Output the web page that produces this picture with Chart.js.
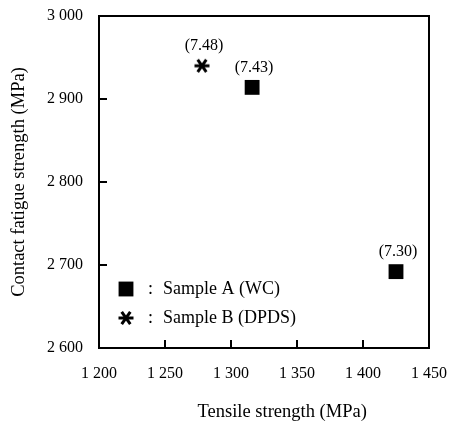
<!DOCTYPE html>
<html>
<head>
<meta charset="utf-8">
<script src="https://cdn.jsdelivr.net/npm/chart.js@4/dist/chart.umd.min.js"></script>
<style>
  html, body { margin: 0; background: #fff; }
  #wrap { width: 452px; height: 421px; }
</style>
</head>
<body>
<div id="wrap"><canvas id="chart"></canvas></div>
<script>
// tensile strength (MPa), contact fatigue strength (MPa), label in brackets
const sampleATensile = [1316, 1425];
const sampleAFatigue = [2914, 2692];
const sampleALabels = ["(7.43)", "(7.30)"];

const sampleBTensile = [1278];
const sampleBFatigue = [2940];
const sampleBLabels = ["(7.48)"];

const xTicks = [1200, 1250, 1300, 1350, 1400, 1450];
const yTicks = [2600, 2700, 2800, 2900, 3000];

const xTitle = "Tensile strength (MPa)";
const yTitle = "Contact fatigue strength (MPa)";

const serif = "'Liberation Serif', 'Times New Roman', serif";

const toPoints = (xs, ys) => xs.map((x, i) => ({ x, y: ys[i] }));
const spaced = (v) => String(v).replace(/\B(?=(\d{3})+(?!\d))/g, " ");

// six-armed asterisk used as the point style for sample B
function makeAsterisk() {
  const c = document.createElement("canvas");
  c.width = 16;
  c.height = 16;
  const g = c.getContext("2d");
  g.strokeStyle = "#000";
  g.lineWidth = 3;
  g.lineCap = "butt";
  g.translate(8, 8);
  [0, 55, -55].forEach((deg) => {
    const r = (deg * Math.PI) / 180;
    const dx = Math.cos(r) * 7.5, dy = Math.sin(r) * 7.5;
    g.beginPath();
    g.moveTo(-dx, -dy);
    g.lineTo(dx, dy);
    g.stroke();
  });
  return c;
}
const asterisk = makeAsterisk();

// box around the plot, inward tick marks, x title (sits a bit right of centre)
const framePlugin = {
  id: "frame",
  afterDraw(chart) {
    const { ctx, chartArea: a, scales } = chart;
    ctx.save();
    ctx.strokeStyle = "#000";
    ctx.lineWidth = 2;
    ctx.strokeRect(a.left, a.top, a.right - a.left, a.bottom - a.top);
    ctx.beginPath();
    xTicks.slice(1, -1).forEach((v) => {
      const px = Math.round(scales.x.getPixelForValue(v));
      ctx.moveTo(px, a.bottom);
      ctx.lineTo(px, a.bottom - 8);
    });
    yTicks.slice(1, -1).forEach((v) => {
      const py = Math.round(scales.y.getPixelForValue(v));
      ctx.moveTo(a.left, py);
      ctx.lineTo(a.left + 8, py);
    });
    ctx.stroke();

    ctx.font = "18.5px " + serif;
    ctx.fillStyle = "#000";
    ctx.textAlign = "center";
    ctx.textBaseline = "middle";
    ctx.fillText(xTitle, a.left + (a.right - a.left) * 0.555, chart.height - 9);
    ctx.restore();
  },
};

// bracketed values above each marker
const pointLabelPlugin = {
  id: "pointLabels",
  afterDatasetsDraw(chart) {
    const { ctx } = chart;
    ctx.save();
    ctx.font = "16px " + serif;
    ctx.fillStyle = "#000";
    ctx.textAlign = "center";
    ctx.textBaseline = "middle";
    chart.data.datasets.forEach((ds, di) => {
      chart.getDatasetMeta(di).data.forEach((el, i) => {
        ctx.fillText(ds.pointLabels[i], el.x + 2, el.y - 20);
      });
    });
    ctx.restore();
  },
};

// legend sits inside the plot, bottom left
const innerLegendPlugin = {
  id: "innerLegend",
  afterDraw(chart) {
    const { ctx, chartArea: a } = chart;
    ctx.save();
    ctx.font = "18px " + serif;
    ctx.fillStyle = "#000";
    ctx.strokeStyle = "#000";
    ctx.textBaseline = "middle";
    chart.data.datasets.forEach((ds, i) => {
      const x = a.left + 27;
      const y = a.bottom - 59 + i * 29;
      Chart.helpers.drawPoint(ctx, {
        pointStyle: ds.pointStyle,
        radius: ds.pointRadius,
        borderWidth: ds.borderWidth,
      }, x, y);
      ctx.fillText(":", x + 22, y);
      ctx.fillText(ds.label, x + 37, y);
    });
    ctx.restore();
  },
};

new Chart(document.getElementById("chart"), {
  type: "scatter",
  data: {
    datasets: [
      {
        label: "Sample A (WC)",
        data: toPoints(sampleATensile, sampleAFatigue),
        pointLabels: sampleALabels,
        pointStyle: "rect",
        pointRadius: 10.5,
        backgroundColor: "#000",
        borderColor: "#000",
        borderWidth: 0,
      },
      {
        label: "Sample B (DPDS)",
        data: toPoints(sampleBTensile, sampleBFatigue),
        pointLabels: sampleBLabels,
        pointStyle: asterisk,
        pointRadius: 8,
        backgroundColor: "#000",
        borderColor: "#000",
        borderWidth: 0,
      },
    ],
  },
  options: {
    responsive: true,
    maintainAspectRatio: false,
    animation: false,
    layout: { padding: { top: 16, right: 23, left: 0, bottom: 0 } },
    plugins: {
      legend: { display: false },
      tooltip: { enabled: false },
    },
    scales: {
      x: {
        type: "linear",
        min: 1200,
        max: 1450,
        afterBuildTicks: (s) => { s.ticks = xTicks.map((v) => ({ value: v })); },
        afterFit: (s) => {
          s.height = 73;
          s.paddingLeft = 0;
          s.paddingRight = 0;
        },
        border: { display: false },
        grid: { display: false, drawTicks: false },
        ticks: {
          padding: 16,
          color: "#000",
          font: { family: serif, size: 16 },
          callback: (v) => spaced(v),
        },
        title: { display: false },
      },
      y: {
        type: "linear",
        min: 2600,
        max: 3000,
        afterBuildTicks: (s) => { s.ticks = yTicks.map((v) => ({ value: v })); },
        afterFit: (s) => {
          s.width = 99;
          s.paddingTop = 0;
          s.paddingBottom = 0;
        },
        border: { display: false },
        grid: { display: false, drawTicks: false },
        ticks: {
          padding: 16,
          color: "#000",
          font: { family: serif, size: 16 },
          callback: (v) => spaced(v),
        },
        title: {
          display: true,
          text: yTitle,
          color: "#000",
          font: { family: serif, size: 18.5 },
          padding: { top: 8, bottom: 0 },
        },
      },
    },
  },
  plugins: [framePlugin, pointLabelPlugin, innerLegendPlugin],
});
</script>
</body>
</html>
